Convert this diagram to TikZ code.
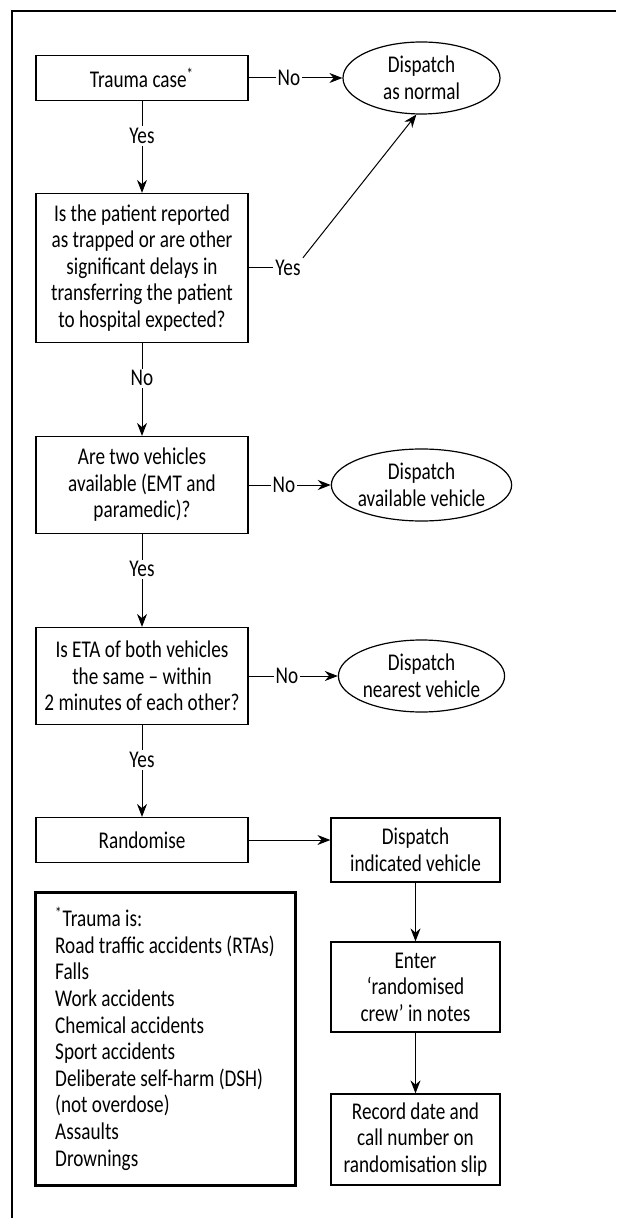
\documentclass[tikz,border=0pt]{standalone}
\usepackage{fontspec}
\setmainfont{Carlito}[FakeStretch=0.8]
\usetikzlibrary{arrows.meta,shapes.geometric}

\tikzstyle{question}=[draw, line width=0.6pt, rectangle, minimum width=106pt, inner sep=0pt, align=center]
\tikzstyle{outcome}=[draw, line width=0.6pt, ellipse, minimum width=78.5pt, minimum height=36pt, inner sep=0pt, align=center]
\tikzstyle{step box}=[draw, line width=0.6pt, rectangle, minimum width=84.5pt, inner sep=0pt, align=center]
\tikzstyle{answer}=[fill=white, inner sep=1pt]
\tikzstyle{link} = [draw, line width=0.5pt, -{Stealth[length=6.5pt, width=5pt]}]

\begin{document}
\begin{tikzpicture}[x=0.5pt, y=-0.5pt, font=\fontsize{12}{13.3}\selectfont]
        \useasboundingbox (0,0) rectangle (616,1218);
        \draw[line width=1pt] (12,1218) -- (12,11) -- (616,11);
        % left column
        \node[question, minimum height=22.5pt] (trauma) at (142,78) {Trauma case\textsuperscript{*}};
        \node[question, minimum height=74.5pt] (q1) at (142,268) {Is the patient reported\\as trapped or are other\\significant delays in\\transferring the patient\\to hospital expected?};
        \node[question, minimum height=48.5pt] (q2) at (142,485) {Are two vehicles\\available (EMT and\\paramedic)?};
        \node[question, minimum height=48.5pt] (q3) at (142,676) {Is ETA of both vehicles\\the same -- within\\2 minutes of each other?};
        \node[question, minimum height=22.5pt] (random) at (142,840) {Randomise};
        % right column
        \foreach \pos/\name/\txt in {{(421.5,78)/normal/{Dispatch\\as normal}}, {(421.5,485)/avail/{Dispatch\\available vehicle}}, {(421.5,676)/nearest/{Dispatch\\nearest vehicle}}}
            \node[outcome] (\name) at \pos {\txt};
        \node[step box, minimum height=32pt] (indicated) at (415.5,850) {Dispatch\\indicated vehicle};
        \node[step box, minimum height=45pt] (enter) at (415.5,987) {Enter\\‘randomised\\crew’ in notes};
        \node[step box, minimum height=45.5pt] (record) at (415.5,1139.5) {Record date and\\call number on\\randomisation slip};
        % footnote
        \node[draw, line width=1.5pt, minimum width=130pt, minimum height=146.5pt, align=left] (note) at (165,1038.5) {\textsuperscript{*}Trauma is:\\Road traffic accidents (RTAs)\\Falls\\Work accidents\\Chemical accidents\\Sport accidents\\Deliberate self-harm (DSH)\\(not overdose)\\Assaults\\Drownings};
        % connectors
        \foreach \source/\dest/\reply in {trauma/q1/Yes, q1/q2/No, q2/q3/Yes, q3/random/Yes}
            \path[link] (\source) -- node[answer, pos=0.38] {\reply} (\dest);
        \foreach \source/\dest in {trauma/normal, q2/avail, q3/nearest}
            \path[link] (\source) -- node[answer, pos=0.43] {No} (\dest);
        \node[answer] (yes2) at (288,268) {Yes};
        \path[draw, line width=0.5pt] (q1) -- (yes2);
        \path[link] (yes2.north east) -- (normal.-98);
        \path[link] (random.east) -- (random.east -| indicated.west);
        \foreach \source/\dest in {indicated/enter, enter/record}
            \path[link] (\source) -- (\dest);
    \end{tikzpicture}
\end{document}
